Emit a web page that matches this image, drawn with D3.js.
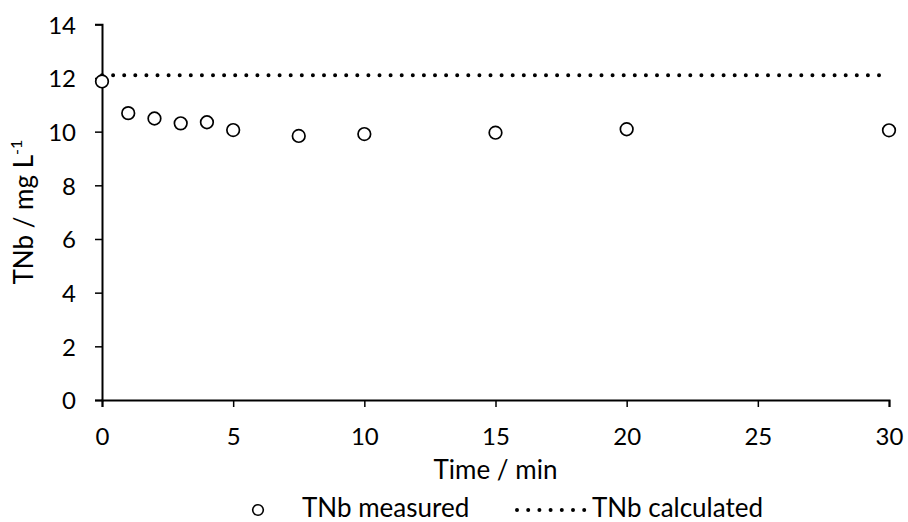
<!DOCTYPE html>
<html>
<head>
<meta charset="utf-8">
<script src="https://cdn.jsdelivr.net/npm/d3@7"></script>
<style>
  html, body { margin: 0; padding: 0; background: #fff; }
  svg text { font-family: Lato, "Open Sans", sans-serif; fill: #000; }
</style>
</head>
<body>
<svg id="chart" width="908" height="522"></svg>
<script>
// Sampling times (min) and measured total bound nitrogen (mg/L)
const times = [0, 1, 2, 3, 4, 5, 7.5, 10, 15, 20, 30];
const measured = [11.87, 10.69, 10.49, 10.31, 10.35, 10.06, 9.84, 9.91, 9.96, 10.09, 10.05];
// Calculated TNb level (constant over the run)
const calculatedTimes = [0, 30];
const calculatedValue = [12.1, 12.1];
const xTicks = [0, 5, 10, 15, 20, 25, 30];
const yTicks = [0, 2, 4, 6, 8, 10, 12, 14];
const legendLabels = ["TNb measured", "TNb calculated"];

const svg = d3.select("#chart");
const tickFont = 24;
const titleFont = 26;

const x = d3.scaleLinear().domain([0, 30]).range([102, 889]);
const y = d3.scaleLinear().domain([0, 14]).range([400, 24.3]);

// Axes
const xAxis = d3.axisBottom(x).tickValues(xTicks).tickSize(7);
const yAxis = d3.axisLeft(y).tickValues(yTicks).tickSize(7).tickPadding(19);

const gx = svg.append("g").attr("transform", `translate(0,${y(0)})`).call(xAxis);
const gy = svg.append("g").attr("transform", `translate(${x(0)},0)`).call(yAxis);

[gx, gy].forEach(g => {
  g.select(".domain").attr("stroke", "#000").attr("stroke-width", 2);
  g.selectAll(".tick line").attr("stroke", "#000").attr("stroke-width", 1.5);
  g.selectAll(".tick text")
    .attr("font-size", tickFont)
    .attr("font-family", "Lato, 'Open Sans', sans-serif")
    .attr("fill", "#000");
});
gx.selectAll(".tick text").attr("y", 45).attr("dy", null);
gy.selectAll(".tick text").attr("dy", "0.37em");

// Calculated level: dotted line
const line = d3.line().x(d => x(d[0])).y(d => y(d[1]));
svg.append("path")
  .datum(calculatedTimes.map((t, i) => [t, calculatedValue[i]]))
  .attr("d", line)
  .attr("fill", "none")
  .attr("stroke", "#000")
  .attr("stroke-width", 4)
  .attr("stroke-linecap", "round")
  .attr("stroke-dasharray", "0 11.1");

// Measured points: open circles
svg.append("g").selectAll("circle")
  .data(times.map((t, i) => [t, measured[i]]))
  .join("circle")
  .attr("cx", d => x(d[0]))
  .attr("cy", d => y(d[1]))
  .attr("r", 6.3)
  .attr("fill", "#fff")
  .attr("stroke", "#000")
  .attr("stroke-width", 1.7);

// Axis titles
svg.append("text")
  .attr("x", 495.5)
  .attr("y", 479)
  .attr("text-anchor", "middle")
  .attr("font-size", titleFont)
  .text("Time / min");

const yTitle = svg.append("text")
  .attr("transform", `translate(33,${y(7)}) rotate(-90)`)
  .attr("text-anchor", "middle")
  .attr("font-size", titleFont);
yTitle.append("tspan").text("TNb / mg L");
yTitle.append("tspan").attr("font-size", 16).attr("dy", -11).text("-1");

// Legend
const legendY = 510;
svg.append("circle")
  .attr("cx", 258).attr("cy", legendY)
  .attr("r", 5.3)
  .attr("fill", "#fff").attr("stroke", "#000").attr("stroke-width", 1.6);
svg.append("text")
  .attr("x", 302).attr("y", 517)
  .attr("font-size", titleFont)
  .text(legendLabels[0]);
svg.append("line")
  .attr("x1", 517).attr("x2", 585)
  .attr("y1", legendY).attr("y2", legendY)
  .attr("stroke", "#000").attr("stroke-width", 4)
  .attr("stroke-linecap", "round")
  .attr("stroke-dasharray", "0 11.2");
svg.append("text")
  .attr("x", 592).attr("y", 517)
  .attr("font-size", titleFont)
  .text(legendLabels[1]);
</script>
</body>
</html>
